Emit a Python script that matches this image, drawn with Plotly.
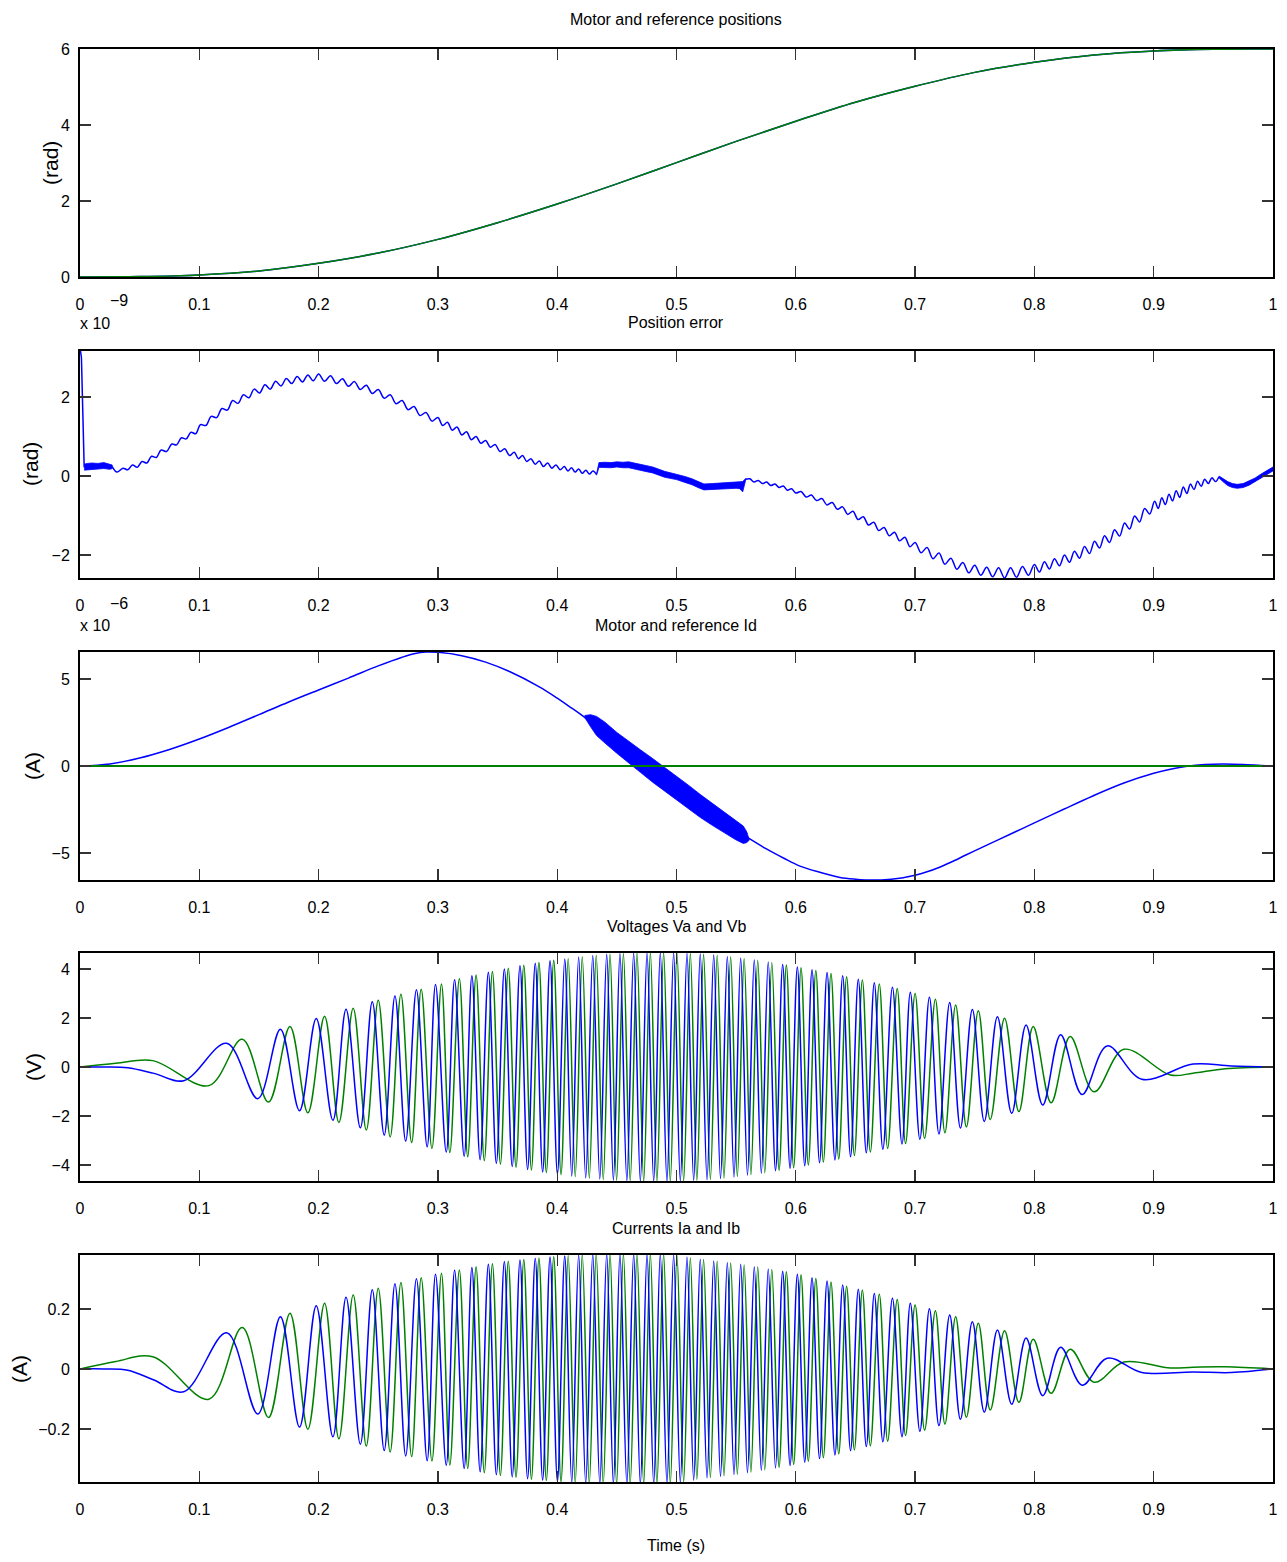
import plotly.graph_objects as go

W, H = 1287, 1562
BLUE = "#0000FF"
GREEN = "#008000"
TEXT_FONT = "Liberation Sans, Arial, Helvetica, sans-serif"

# ---------------- Panel 1: motor and reference positions (rad) ----------------
pos_t = [0, 0.05, 0.1, 0.15, 0.2, 0.25, 0.3, 0.35, 0.4, 0.45, 0.5,
         0.55, 0.6, 0.65, 0.7, 0.75, 0.8, 0.85, 0.9, 0.95, 1.0]
pos_motor = [0, 0.01, 0.055, 0.16, 0.36, 0.63, 0.99, 1.43, 1.92, 2.45, 3.01,
             3.57, 4.10, 4.60, 5.02, 5.385, 5.65, 5.845, 5.95, 5.995, 6.0]
pos_ref = [0, 0.01, 0.055, 0.16, 0.36, 0.63, 0.99, 1.43, 1.92, 2.45, 3.01,
           3.57, 4.10, 4.60, 5.02, 5.385, 5.65, 5.845, 5.95, 5.995, 6.0]

# ---------------- Panel 2: position error (x 1e-9 rad) ----------------
err_spike_t = [0.0, 0.0012, 0.0035]
err_spike_v = [3.25, 3.0, 0.22]

err_noise1_t = [0.0035, 0.006, 0.01, 0.015, 0.02, 0.025, 0.027]
err_noise1_hi = [0.30, 0.32, 0.33, 0.32, 0.34, 0.31, 0.28]
err_noise1_lo = [0.15, 0.17, 0.18, 0.18, 0.19, 0.17, 0.19]

err_rip1_t = [0.027, 0.031, 0.036, 0.040, 0.044, 0.048, 0.052, 0.056, 0.060, 0.064,
              0.068, 0.0725, 0.077, 0.081, 0.085, 0.089, 0.093, 0.097, 0.101, 0.1055,
              0.110, 0.1145, 0.119, 0.1235, 0.128, 0.1325, 0.137, 0.1415, 0.146, 0.1505,
              0.155, 0.1595, 0.164, 0.1685, 0.173, 0.1775, 0.182, 0.1865, 0.191, 0.1955,
              0.200, 0.205, 0.210, 0.215, 0.220, 0.225, 0.230, 0.235, 0.240, 0.245,
              0.250, 0.255, 0.260, 0.265, 0.270, 0.275, 0.280, 0.285, 0.290, 0.295,
              0.300, 0.304, 0.308, 0.312, 0.316, 0.320, 0.324, 0.328, 0.332, 0.336,
              0.340, 0.344, 0.348, 0.352, 0.356, 0.360, 0.364, 0.3675, 0.371, 0.3745,
              0.378, 0.3815, 0.385, 0.3885, 0.392, 0.3955, 0.399, 0.4025, 0.406, 0.409,
              0.412, 0.415, 0.418, 0.421, 0.424, 0.427, 0.430, 0.433]
err_rip1_v = [0.24, 0.10, 0.20, 0.16, 0.28, 0.22, 0.37, 0.33, 0.50, 0.47,
              0.66, 0.62, 0.81, 0.79, 0.97, 0.94, 1.11, 1.07, 1.30, 1.28,
              1.51, 1.48, 1.71, 1.67, 1.91, 1.84, 2.06, 1.98, 2.20, 2.10,
              2.31, 2.20, 2.40, 2.28, 2.47, 2.34, 2.52, 2.38, 2.56, 2.41,
              2.58, 2.40, 2.54, 2.34, 2.46, 2.27, 2.39, 2.19, 2.30, 2.09,
              2.19, 1.97, 2.06, 1.83, 1.91, 1.68, 1.76, 1.53, 1.61, 1.39,
              1.48, 1.28, 1.36, 1.16, 1.24, 1.04, 1.12, 0.92, 1.00, 0.83,
              0.90, 0.73, 0.80, 0.62, 0.69, 0.52, 0.60, 0.44, 0.52, 0.37,
              0.44, 0.30, 0.38, 0.24, 0.33, 0.20, 0.28, 0.16, 0.24, 0.13,
              0.21, 0.10, 0.18, 0.07, 0.15, 0.05, 0.13, 0.04]

err_noise2_t = [0.433, 0.435, 0.44, 0.445, 0.45, 0.455, 0.46, 0.465, 0.47, 0.475, 0.48, 0.49,
                0.50, 0.507, 0.513, 0.518, 0.523, 0.53, 0.536, 0.543, 0.55, 0.553, 0.5555, 0.558]
err_noise2_hi = [0.06, 0.34, 0.35, 0.34, 0.36, 0.35, 0.36, 0.33, 0.29, 0.26, 0.23, 0.12,
                 0.05, -0.01, -0.07, -0.14, -0.20, -0.19, -0.18, -0.17, -0.15, -0.16, -0.14, -0.06]
err_noise2_lo = [0.02, 0.22, 0.22, 0.21, 0.23, 0.21, 0.21, 0.17, 0.14, 0.11, 0.08, -0.03,
                 -0.09, -0.16, -0.22, -0.29, -0.35, -0.34, -0.33, -0.32, -0.31, -0.32, -0.40, -0.10]

err_rip2_t = [0.558, 0.5615, 0.565, 0.5685, 0.572, 0.5755, 0.579, 0.5825, 0.586, 0.5895,
              0.593, 0.5965, 0.600, 0.6044, 0.6087, 0.6131, 0.6174, 0.6218, 0.6261, 0.6305,
              0.6348, 0.6392, 0.6435, 0.6479, 0.6522, 0.6566, 0.6609, 0.6653, 0.6696, 0.6740,
              0.6783, 0.6827, 0.6870, 0.6914, 0.6957, 0.7000, 0.705, 0.710, 0.715, 0.720,
              0.725, 0.730, 0.735, 0.740, 0.745, 0.750, 0.755, 0.760, 0.765, 0.770,
              0.775, 0.780, 0.785, 0.790, 0.795, 0.800, 0.8042, 0.8084, 0.8126, 0.8168,
              0.821, 0.8252, 0.8294, 0.8336, 0.8378, 0.842, 0.8462, 0.8504, 0.8546, 0.8588,
              0.863, 0.8672, 0.8714, 0.8756, 0.8798, 0.884, 0.8882, 0.8924, 0.8966, 0.9008,
              0.9038, 0.9068, 0.9098, 0.9128, 0.9158, 0.9188, 0.9218, 0.9248, 0.9278, 0.9308,
              0.9338, 0.9368, 0.9398, 0.9428, 0.9458, 0.9488, 0.9518, 0.9548]
err_rip2_v = [-0.08, -0.07, -0.15, -0.11, -0.19, -0.15, -0.24, -0.20, -0.29, -0.25,
              -0.36, -0.32, -0.43, -0.39, -0.53, -0.48, -0.62, -0.57, -0.73, -0.67,
              -0.84, -0.78, -0.97, -0.89, -1.10, -1.03, -1.24, -1.17, -1.38, -1.30,
              -1.51, -1.42, -1.64, -1.55, -1.79, -1.68, -1.94, -1.81, -2.09, -1.95,
              -2.23, -2.08, -2.36, -2.19, -2.45, -2.26, -2.51, -2.31, -2.55, -2.32,
              -2.58, -2.32, -2.56, -2.29, -2.51, -2.24, -2.43, -2.17, -2.35, -2.09,
              -2.27, -2.00, -2.18, -1.90, -2.08, -1.78, -1.96, -1.65, -1.82, -1.51,
              -1.68, -1.36, -1.52, -1.19, -1.34, -1.01, -1.16, -0.82, -0.96, -0.64,
              -0.82, -0.55, -0.72, -0.46, -0.63, -0.37, -0.54, -0.28, -0.44, -0.20,
              -0.34, -0.13, -0.26, -0.08, -0.19, -0.04, -0.14, -0.01]

err_noise3_t = [0.9548, 0.958, 0.962, 0.966, 0.970, 0.975, 0.980, 0.985, 0.990, 0.995, 1.0]
err_noise3_hi = [0.0, -0.06, -0.14, -0.19, -0.21, -0.19, -0.13, -0.05, 0.05, 0.14, 0.23]
err_noise3_lo = [-0.05, -0.14, -0.24, -0.29, -0.31, -0.29, -0.23, -0.15, -0.05, 0.04, 0.13]

# ---------------- Panel 3: motor and reference Id (x 1e-6 A) ----------------
id_t = [0, 0.025, 0.05, 0.075, 0.1, 0.125, 0.15, 0.175, 0.2, 0.225,
        0.25, 0.27, 0.28, 0.29, 0.30, 0.32, 0.34, 0.36, 0.385, 0.40,
        0.41, 0.42, 0.435, 0.455, 0.475, 0.497, 0.52, 0.542, 0.557, 0.575,
        0.59, 0.6035, 0.62, 0.637, 0.65, 0.665, 0.68, 0.69, 0.70, 0.71,
        0.72, 0.73, 0.743, 0.757, 0.77, 0.785, 0.80, 0.825, 0.849, 0.875,
        0.90, 0.915, 0.928, 0.943, 0.958, 0.975, 0.99, 1.0]
id_motor = [0, 0.12, 0.46, 0.95, 1.55, 2.23, 2.95, 3.68, 4.37, 5.05,
            5.75, 6.25, 6.45, 6.55, 6.53, 6.34, 5.97, 5.43, 4.55, 3.9,
            3.43, 2.95, 2.15, 1.05, 0.03, -1.1, -2.3, -3.35, -4.0, -4.75,
            -5.3, -5.75, -6.1, -6.4, -6.5, -6.55, -6.5, -6.42, -6.28, -6.08,
            -5.83, -5.53, -5.1, -4.65, -4.23, -3.75, -3.27, -2.47, -1.72, -0.98,
            -0.42, -0.17, -0.02, 0.08, 0.12, 0.09, 0.03, 0]
id_band_t = [0.423, 0.428, 0.433, 0.44, 0.45, 0.46, 0.47, 0.48, 0.49,
             0.50, 0.51, 0.52, 0.53, 0.54, 0.55, 0.556, 0.559, 0.561]
id_band_hi = [2.90, 2.95, 2.85, 2.52, 1.93, 1.40, 0.92, 0.43, -0.08,
              -0.55, -1.10, -1.64, -2.15, -2.65, -3.15, -3.45, -3.80, -4.15]
id_band_lo = [2.80, 2.25, 1.75, 1.32, 0.73, 0.16, -0.38, -0.93, -1.48,
              -1.95, -2.46, -2.96, -3.41, -3.85, -4.25, -4.45, -4.40, -4.25]
id_ref_t = [0, 1]
id_ref = [0, 0]

# ---------------- Panel 4: voltages Va (blue) and Vb (green), V ----------------
va_t = [0, 0.02, 0.04, 0.062, 0.087, 0.123, 0.149, 0.168, 0.184, 0.198,
        0.212, 0.223, 0.235, 0.245, 0.255, 0.264, 0.273, 0.282, 0.291, 0.298,
        0.307, 0.314, 0.322, 0.3285, 0.3354, 0.3423, 0.3490, 0.3557, 0.3623, 0.3688,
        0.3752, 0.3816, 0.3878, 0.3940, 0.4002, 0.4063, 0.4122, 0.4180, 0.4239, 0.4298,
        0.4357, 0.4415, 0.4471, 0.4526, 0.4584, 0.4641, 0.4697, 0.4753, 0.4809, 0.4864,
        0.4920, 0.4976, 0.5032, 0.5088, 0.5144, 0.5199, 0.5256, 0.5312, 0.5369, 0.5426,
        0.5482, 0.5538, 0.5595, 0.5652, 0.5711, 0.5769, 0.5830, 0.5890, 0.5952, 0.6013,
        0.6075, 0.6136, 0.6199, 0.6262, 0.6328, 0.6393, 0.6459, 0.6524, 0.6591, 0.6658,
        0.673, 0.681, 0.689, 0.696, 0.704, 0.712, 0.720, 0.729, 0.738, 0.748,
        0.758, 0.769, 0.781, 0.793, 0.807, 0.822, 0.840, 0.861, 0.890, 0.933,
        0.965, 1.0]
va_v = [0, 0, -0.03, -0.26, -0.56, 0.97, -1.29, 1.54, -1.78, 1.98,
        -2.17, 2.36, -2.48, 2.66, -2.78, 2.90, -3.02, 3.15, -3.25, 3.37,
        -3.47, 3.56, -3.64, 3.72, -3.78, 3.86, -3.93, 4.00, -4.06, 4.13,
        -4.18, 4.23, -4.28, 4.33, -4.37, 4.41, -4.45, 4.49, -4.52, 4.55,
        -4.57, 4.60, -4.62, 4.63, -4.64, 4.65, -4.66, 4.66, -4.66, 4.66,
        -4.66, 4.65, -4.65, 4.64, -4.63, 4.61, -4.60, 4.57, -4.55, 4.51,
        -4.49, 4.45, -4.41, 4.37, -4.33, 4.28, -4.23, 4.18, -4.13, 4.08,
        -4.03, 3.97, -3.91, 3.85, -3.79, 3.72, -3.66, 3.58, -3.50, 3.44,
        -3.36, 3.25, -3.14, 3.05, -2.95, 2.84, -2.73, 2.63, -2.49, 2.35,
        -2.22, 2.05, -1.89, 1.71, -1.55, 1.32, -1.12, 0.86, -0.50, 0.12,
        0.04, 0]
vb_t = [0, 0.03, 0.061, 0.108, 0.136, 0.158, 0.176, 0.191, 0.205, 0.217,
        0.229, 0.240, 0.250, 0.260, 0.269, 0.278, 0.286, 0.295, 0.303, 0.310,
        0.318, 0.325, 0.3320, 0.3389, 0.3457, 0.3524, 0.3590, 0.3655, 0.3720, 0.3784,
        0.3847, 0.3909, 0.3971, 0.4032, 0.4092, 0.4151, 0.4210, 0.4269, 0.4327, 0.4386,
        0.4443, 0.4498, 0.4555, 0.4612, 0.4669, 0.4725, 0.4781, 0.4836, 0.4892, 0.4948,
        0.5004, 0.5060, 0.5116, 0.5171, 0.5227, 0.5284, 0.5341, 0.5398, 0.5454, 0.5510,
        0.5567, 0.5624, 0.5681, 0.5740, 0.5799, 0.5860, 0.5921, 0.5982, 0.6044, 0.6105,
        0.6168, 0.6231, 0.6295, 0.6360, 0.6426, 0.6491, 0.6558, 0.6625, 0.670, 0.677,
        0.685, 0.692, 0.700, 0.708, 0.717, 0.725, 0.734, 0.743, 0.753, 0.763,
        0.775, 0.787, 0.799, 0.814, 0.830, 0.850, 0.875, 0.914, 0.933, 0.96,
        1.0]
vb_v = [0, 0.15, 0.26, -0.76, 1.13, -1.43, 1.65, -1.87, 2.07, -2.26,
        2.40, -2.57, 2.72, -2.85, 2.97, -3.08, 3.17, -3.32, 3.39, -3.49,
        3.60, -3.66, 3.75, -3.82, 3.90, -3.96, 4.03, -4.09, 4.15, -4.20,
        4.26, -4.31, 4.35, -4.39, 4.43, -4.47, 4.50, -4.53, 4.56, -4.59,
        4.60, -4.62, 4.63, -4.64, 4.65, -4.66, 4.66, -4.66, 4.66, -4.66,
        4.65, -4.64, 4.63, -4.62, 4.60, -4.58, 4.56, -4.53, 4.50, -4.47,
        4.43, -4.39, 4.35, -4.31, 4.26, -4.21, 4.16, -4.11, 4.05, -4.00,
        3.94, -3.88, 3.81, -3.75, 3.68, -3.61, 3.55, -3.47, 3.39, -3.32,
        3.20, -3.12, 3.00, -2.91, 2.76, -2.68, 2.53, -2.44, 2.29, -2.14,
        1.99, -1.82, 1.65, -1.46, 1.24, -1.01, 0.72, -0.33, -0.25, -0.07,
        0]

# ---------------- Panel 5: currents Ia (blue, on va_t) and Ib (green, on vb_t), A ----------------
ia_v = [0, 0, -0.004, -0.037, -0.076, 0.121, -0.150, 0.174, -0.194, 0.211,
        -0.226, 0.239, -0.251, 0.264, -0.272, 0.284, -0.290, 0.301, -0.306, 0.316,
        -0.321, 0.329, -0.332, 0.338, -0.343, 0.349, -0.353, 0.358, -0.360, 0.363,
        -0.366, 0.369, -0.371, 0.373, -0.375, 0.377, -0.379, 0.381, -0.382, 0.383,
        -0.383, 0.384, -0.384, 0.384, -0.384, 0.384, -0.384, 0.384, -0.384, 0.383,
        -0.382, 0.380, -0.378, 0.373, -0.371, 0.366, -0.363, 0.360, -0.358, 0.354,
        -0.352, 0.349, -0.346, 0.341, -0.338, 0.333, -0.330, 0.326, -0.322, 0.316,
        -0.311, 0.304, -0.299, 0.293, -0.287, 0.280, -0.273, 0.266, -0.259, 0.252,
        -0.243, 0.236, -0.226, 0.219, -0.208, 0.201, -0.189, 0.180, -0.168, 0.157,
        -0.144, 0.130, -0.118, 0.103, -0.089, 0.072, -0.054, 0.036, -0.012, -0.010,
        -0.012, 0]
ib_v = [0, 0.025, 0.041, -0.101, 0.138, -0.162, 0.186, -0.201, 0.219, -0.233,
        0.247, -0.257, 0.269, -0.277, 0.288, -0.292, 0.304, -0.307, 0.319, -0.320,
        0.330, -0.332, 0.341, -0.346, 0.351, -0.355, 0.359, -0.361, 0.365, -0.368,
        0.370, -0.372, 0.374, -0.376, 0.378, -0.380, 0.382, -0.383, 0.384, -0.384,
        0.384, -0.384, 0.384, -0.384, 0.384, -0.384, 0.384, -0.384, 0.384, -0.383,
        0.379, -0.376, 0.371, -0.368, 0.365, -0.362, 0.359, -0.356, 0.353, -0.351,
        0.347, -0.344, 0.340, -0.336, 0.332, -0.328, 0.324, -0.319, 0.314, -0.308,
        0.302, -0.296, 0.290, -0.283, 0.276, -0.270, 0.263, -0.256, 0.249, -0.241,
        0.232, -0.222, 0.213, -0.204, 0.194, -0.184, 0.174, -0.161, 0.152, -0.137,
        0.127, -0.111, 0.099, -0.081, 0.066, -0.044, 0.023, 0.003, 0.006, 0.007,
        0]

# ---------------- axes / text ----------------
x_ticks = [0, 0.1, 0.2, 0.3, 0.4, 0.5, 0.6, 0.7, 0.8, 0.9, 1]
x_ticktext = ["0", "0.1", "0.2", "0.3", "0.4", "0.5", "0.6", "0.7", "0.8", "0.9", "1"]
panel_titles = ["Motor and reference positions", "Position error", "Motor and reference Id",
                "Voltages Va and Vb", "Currents Ia and Ib"]
panel_ylabels = ["(rad)", "(rad)", "(A)", "(V)", "(A)"]
y_ranges = [[0, 6], [-2.58, 3.165], [-6.55, 6.55], [-4.65, 4.65], [-0.377, 0.38]]
y_ticks = [[0, 2, 4, 6], [-2, 0, 2], [-5, 0, 5], [-4, -2, 0, 2, 4], [-0.2, 0, 0.2]]
y_ticktext = [["0", "2", "4", "6"], ["\u22122", "0", "2"], ["\u22125", "0", "5"],
              ["\u22124", "\u22122", "0", "2", "4"], ["\u22120.2", "0", "0.2"]]

# panel pixel geometry (top, bottom), left/right edges
panel_px = [(49, 277), (351, 578), (652, 880), (953, 1181), (1255, 1482)]
LEFT_PX, RIGHT_PX = 80, 1273

fig = go.Figure()


def ax_ids(i):
    return ("x", "y") if i == 1 else ("x%d" % i, "y%d" % i)


def add_line(x, y, color, panel, width=1.5, shape="spline"):
    xa, ya = ax_ids(panel)
    fig.add_trace(go.Scatter(x=x, y=y, mode="lines",
                             line=dict(color=color, width=width, shape=shape, smoothing=1.0),
                             xaxis=xa, yaxis=ya, hoverinfo="skip", showlegend=False))


def add_band(x, hi, lo, color, panel):
    xa, ya = ax_ids(panel)
    fig.add_trace(go.Scatter(x=list(x) + list(x)[::-1], y=list(hi) + list(lo)[::-1],
                             mode="lines", fill="toself", fillcolor=color,
                             line=dict(color=color, width=0.8),
                             xaxis=xa, yaxis=ya, hoverinfo="skip", showlegend=False))


# panel 1
add_line(pos_t, pos_motor, BLUE, 1)
add_line(pos_t, pos_ref, GREEN, 1)
# panel 2
add_line(err_spike_t, err_spike_v, BLUE, 2, shape="linear")
add_band(err_noise1_t, err_noise1_hi, err_noise1_lo, BLUE, 2)
add_line(err_rip1_t, err_rip1_v, BLUE, 2)
add_band(err_noise2_t, err_noise2_hi, err_noise2_lo, BLUE, 2)
add_line(err_rip2_t, err_rip2_v, BLUE, 2)
add_band(err_noise3_t, err_noise3_hi, err_noise3_lo, BLUE, 2)
# panel 3
add_band(id_band_t, id_band_hi, id_band_lo, BLUE, 3)
add_line(id_t, id_motor, BLUE, 3)
add_line(id_ref_t, id_ref, GREEN, 3, width=2, shape="linear")
# panel 4
add_line(vb_t, vb_v, GREEN, 4)
add_line(va_t, va_v, BLUE, 4)
# panel 5
add_line(vb_t, ib_v, GREEN, 5)
add_line(va_t, ia_v, BLUE, 5)

layout = dict(width=W, height=H, autosize=False,
              margin=dict(l=0, r=0, t=0, b=0, pad=0),
              paper_bgcolor="white", plot_bgcolor="white", showlegend=False)

tick_font = dict(family=TEXT_FONT, size=16, color="black")
common = dict(showline=True, linecolor="black", linewidth=2, mirror="ticks",
              ticks="inside", ticklen=11, tickwidth=1.3, tickcolor="#333333",
              showgrid=False, zeroline=False, tickfont=tick_font, fixedrange=True,
              automargin=False)

for i in range(1, 6):
    top, bot = panel_px[i - 1]
    ydom = [1 - bot / H, 1 - top / H]
    xname = "xaxis" if i == 1 else "xaxis%d" % i
    yname = "yaxis" if i == 1 else "yaxis%d" % i
    xa, ya = ax_ids(i)
    layout[xname] = dict(domain=[LEFT_PX / W, RIGHT_PX / W], range=[0, 1], anchor=ya,
                         tickmode="array", tickvals=x_ticks, ticktext=x_ticktext,
                         ticklabelstandoff=12, **common)
    layout[yname] = dict(domain=ydom, range=y_ranges[i - 1], anchor=xa,
                         tickmode="array", tickvals=y_ticks[i - 1], ticktext=y_ticktext[i - 1],
                         ticklabelstandoff=5, **common)

fig.update_layout(**layout)


def ann(text, px, py, size, angle=0, xanchor="center"):
    return dict(text=text, x=px / W, y=1 - py / H, xref="paper", yref="paper",
                xanchor=xanchor, yanchor="middle", showarrow=False, textangle=angle,
                font=dict(family=TEXT_FONT, size=size, color="black"))


annotations = []
title_py = [20, 322, 625, 926, 1228]
for t, py in zip(panel_titles, title_py):
    annotations.append(ann(t, 676, py, 16))
annotations.append(ann("Time (s)", 676, 1545, 16))

ylab_pos = [(51, 163), (31, 464), (33, 766), (33, 1067), (19, 1369)]
for lab, (px, py) in zip(panel_ylabels, ylab_pos):
    annotations.append(ann(lab, px, py, 21, angle=-90))

# axis exponent labels (MATLAB style)
annotations.append(ann("x 10", 78, 324, 16, xanchor="left"))
annotations.append(ann("\u22129", 108, 300, 16, xanchor="left"))
annotations.append(ann("x 10", 78, 626, 16, xanchor="left"))
annotations.append(ann("\u22126", 108, 603, 16, xanchor="left"))

fig.update_layout(annotations=annotations)

# remove the browser's default 8px body margin so the figure sits at the page origin
fig.write_html("out.html",
               config={"displayModeBar": False, "staticPlot": True},
               post_script="document.body.style.margin='0px';document.body.style.overflow='hidden';")
